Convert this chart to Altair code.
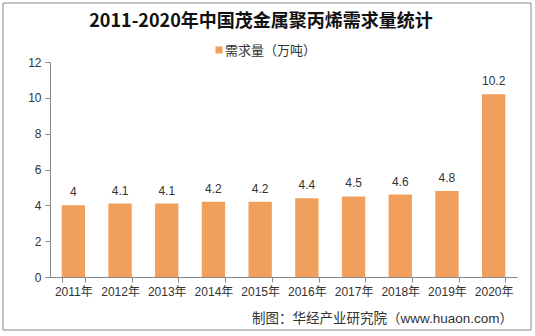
import altair as alt
import pandas as pd

years = ["2011年", "2012年", "2013年", "2014年", "2015年", "2016年", "2017年", "2018年", "2019年", "2020年"]
demand = [4, 4.1, 4.1, 4.2, 4.2, 4.4, 4.5, 4.6, 4.8, 10.2]
labels = ["4", "4.1", "4.1", "4.2", "4.2", "4.4", "4.5", "4.6", "4.8", "10.2"]

df = pd.DataFrame({"year": years, "demand": demand, "label": labels})

W, H = 467, 215
FONT = "Liberation Sans, Noto Sans CJK SC"
BAR = "#F0A05C"

x = alt.X("year:N", sort=years, title=None,
          scale=alt.Scale(paddingInner=0.5, paddingOuter=0.25),
          axis=alt.Axis(labelAngle=0, labelFontSize=12, labelColor="#333333", labelFont=FONT,
                        domainColor="#888888", tickColor="#888888", tickBand="extent",
                        tickSize=5, labelPadding=4, labelOverlap=False))
y = alt.Y("demand:Q", title=None,
          scale=alt.Scale(domain=[0, 12], nice=False),
          axis=alt.Axis(values=[0, 2, 4, 6, 8, 10, 12], grid=False, labelFontSize=12,
                        labelColor="#333333", labelFont=FONT, domainColor="#888888",
                        tickColor="#888888", tickSize=5, labelPadding=4, labelOverlap=False,
                        labelBound=False, labelFlush=False))

bars = alt.Chart(df).mark_bar(color=BAR).encode(x=x, y=y)
text = alt.Chart(df).mark_text(dy=-13, fontSize=12, color="#333333", font=FONT).encode(
    x=x, y=y, text="label:N")

one = pd.DataFrame({"t": ["2011-2020年中国茂金属聚丙烯需求量统计"]})
title = alt.Chart(one).mark_text(fontSize=18, fontWeight="bold", font="Noto Sans CJK SC",
                                 color="#111111", align="center", baseline="middle").encode(
    x=alt.value(211), y=alt.value(-40), text="t:N")

leg_df = pd.DataFrame({"t": ["需求量（万吨）"]})
leg_sq = alt.Chart(leg_df).mark_square(size=50, color=BAR, opacity=1).encode(
    x=alt.value(169), y=alt.value(-12))
leg_tx = alt.Chart(leg_df).mark_text(fontSize=13, font=FONT, color="#333333", align="left",
                                     baseline="middle").encode(
    x=alt.value(175), y=alt.value(-11), text="t:N")

src_df = pd.DataFrame({"t": ["制图：华经产业研究院（www.huaon.com）"]})
src = alt.Chart(src_df).mark_text(fontSize=13.5, font=FONT, color="#333333", align="right",
                                  baseline="middle").encode(
    x=alt.value(463), y=alt.value(42 + H), text="t:N")

border = alt.Chart(one).mark_rect(fill=None, stroke="#888888", strokeWidth=1).encode(
    x=alt.value(-47), x2=alt.value(W + 14), y=alt.value(-59), y2=alt.value(H + 53))

chart = alt.layer(border, bars, text, title, leg_sq, leg_tx, src).properties(
    width=W, height=H,
    autosize=alt.AutoSizeParams(type="none"),
    padding={"left": 50, "top": 62, "right": 18, "bottom": 59},
    background="white",
).configure_view(stroke=None)

chart.save("out.html", embed_options={"renderer": "svg", "actions": False})
